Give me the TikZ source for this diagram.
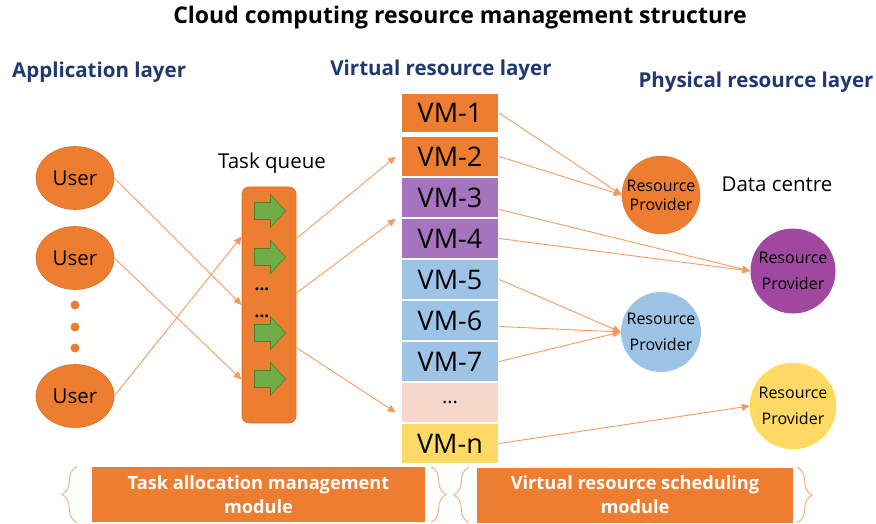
\documentclass[tikz,border=0pt]{standalone}
\usepackage{fontspec}
\setmainfont{Open Sans}
\usetikzlibrary{arrows.meta,shapes.geometric,decorations.pathreplacing,calc}

\definecolor{boxorange}{RGB}{237,125,49}
\definecolor{edgeorange}{RGB}{214,108,40}
\definecolor{linkorange}{RGB}{244,155,95}
\definecolor{bracecol}{RGB}{244,177,131}
\definecolor{vmpurple}{RGB}{166,115,190}
\definecolor{vmblue}{RGB}{157,195,230}
\definecolor{vmpink}{RGB}{248,215,203}
\definecolor{vmyellow}{RGB}{255,217,102}
\definecolor{rppurple}{RGB}{160,72,160}
\definecolor{rpedge}{RGB}{255,230,0}
\definecolor{taskgreen}{RGB}{112,173,71}
\definecolor{taskedge}{RGB}{80,126,50}
\definecolor{layerblue}{RGB}{31,56,110}

\begin{document}
\begin{tikzpicture}[x=1pt,y=-1pt,
  user/.style={ellipse,fill=boxorange,draw=edgeorange,line width=0.6pt,minimum width=78pt,minimum height=63pt,inner sep=0pt,font=\fontsize{20.5}{24}\selectfont},
  vm/.style={rectangle,draw=white,line width=1.5pt,minimum width=97pt,minimum height=41pt,inner sep=0pt,font=\fontsize{27}{30}\selectfont},
  provider/.style={circle,inner sep=0pt,align=center,font=\fontsize{16}{26}\selectfont},
  layer/.style={text=layerblue,inner sep=0pt,font=\fontsize{20.5}{24}\selectfont\bfseries},
  module/.style={fill=boxorange,text=white,align=center,minimum height=55pt,inner sep=0pt,font=\fontsize{18.2}{24}\selectfont\bfseries},
  link/.style={draw=linkorange,line width=0.9pt,-{Triangle[length=8pt,width=7pt]}},
  brace/.style={draw=bracecol,line width=1pt,decorate,decoration={brace,amplitude=15pt}},
  taskarrow/.pic={\draw[fill=taskgreen,draw=taskedge,line width=0.6pt] (-15,-8.5) -- (1,-8.5) -- (1,-16.5) -- (16,0) -- (1,16.5) -- (1,8.5) -- (-15,8.5) -- cycle;}]
  \useasboundingbox (0,0) rectangle (876,524);

  \node[font=\fontsize{23}{26}\selectfont\bfseries] (title) at (460,18) {Cloud computing resource management structure};
  \node[layer,anchor=west] (applayer) at (12,72) {Application layer};
  \node[layer] (virtlayer) at (441,70) {Virtual resource layer};
  \node[layer] (physlayer) at (756,82) {Physical resource layer};

  \node[user] (u1) at (75,178) {User};
  \node[user] (u2) at (75,258) {User};
  \node[user] (u3) at (75,396) {User};
  \foreach \y in {305,327,348}
    \fill[boxorange] (75,\y) circle (4.5);

  \node[font=\fontsize{20.5}{24}\selectfont] (qlabel) at (272,163) {Task queue};
  \node[rectangle,rounded corners=7pt,fill=boxorange,draw=edgeorange,line width=0.6pt,minimum width=54pt,minimum height=236pt] (q) at (269,305) {};
  \foreach \y in {211,257,333,379}
    \pic at (269.5,\y) {taskarrow};
  \node[font=\fontsize{17}{17}\selectfont\bfseries] (qdots1) at (262,289) {...};
  \node[font=\fontsize{17}{17}\selectfont\bfseries] (qdots2) at (262,316) {...};

  \node[vm,fill=boxorange,minimum height=39pt] (vm1) at (450,113) {VM-1};
  \foreach \i/\c in {2/boxorange,3/vmpurple,4/vmpurple,5/vmblue,6/vmblue,7/vmblue}
    \node[vm,fill=\c] (vm\i) at (450,{156.5+41*(\i-2)}) {VM-\i};
  \node[vm,fill=vmpink,font=\fontsize{20}{20}\selectfont] (vmd) at (450,402.5) {...};
  \node[vm,fill=vmyellow] (vmn) at (450,443.5) {VM-n};

  \node[provider,fill=boxorange,draw=edgeorange,minimum size=78pt,font=\fontsize{16}{19}\selectfont] (rp1) at (661,195) {Resource\\Provider};
  \node[provider,fill=rppurple,minimum size=85pt] (rp2) at (793,271) {Resource\\Provider};
  \node[provider,fill=vmblue,minimum size=80pt] (rp3) at (661,332) {Resource\\Provider};
  \node[provider,fill=vmyellow,draw=rpedge,minimum size=86pt] (rp4) at (793,406) {Resource\\Provider};
  \node[font=\fontsize{20.5}{24}\selectfont] (dc) at (777,184) {Data centre};

  \draw[link] (u1.east) -- (q.west);
  \draw[link] (u2.east) -- ($(q.north west)!0.815!(q.south west)$);
  \draw[link] (u3.east) -- ($(q.north west)!0.21!(q.south west)$);

  \draw[link] ($(q.north east)!0.22!(q.south east)$) -- ([xshift=-5pt]vm2.west);
  \draw[link] ($(q.north east)!0.45!(q.south east)$) -- ([xshift=-5pt]vm3.south west);
  \draw[link] ($(q.north east)!0.68!(q.south east)$) -- ([xshift=-5pt,yshift=-10pt]vmd.west);

  \draw[link] (vm1.east) -- (rp1.west);
  \draw[link] (vm2.east) -- (rp1.west);
  \draw[link] ([yshift=-12pt]vm3.east) -- (rp2.west);
  \draw[link] (vm4.east) -- (rp2.west);
  \draw[link] (vm5.east) -- (rp3.west);
  \draw[link] ([yshift=-6pt]vm6.east) -- (rp3.west);
  \draw[link] (vm7.east) -- (rp3.west);
  \draw[link] (vmn.east) -- (rp4.west);

  \node[module,minimum width=333pt] (m1) at (258.5,494.5) {Task allocation management\\module};
  \node[module,minimum width=316pt] (m2) at (635,495) {Virtual resource scheduling\\module};
  \draw[brace] ([xshift=-15pt]m1.south west) -- ([xshift=-15pt]m1.north west);
  \draw[brace] ([xshift=6pt]m1.north east) -- ([xshift=6pt]m1.south east);
  \draw[brace] ([xshift=-8pt]m2.south west) -- ([xshift=-8pt]m2.north west);
  \draw[brace] ([xshift=4pt]m2.north east) -- ([xshift=4pt]m2.south east);
\end{tikzpicture}
\end{document}
